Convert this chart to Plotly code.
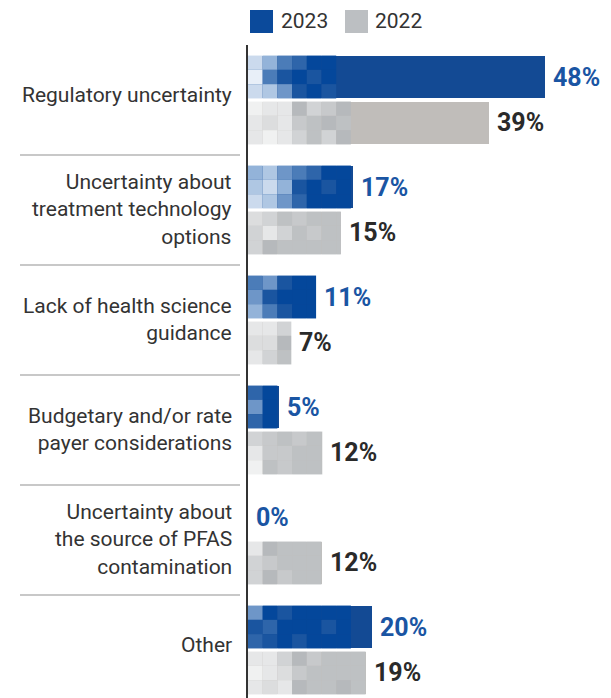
import plotly.graph_objects as go

# Survey results: share of respondents citing each barrier
categories = [
    "Regulatory uncertainty",
    "Uncertainty about<br>treatment technology<br>options",
    "Lack of health science<br>guidance",
    "Budgetary and/or rate<br>payer considerations",
    "Uncertainty about<br>the source of PFAS<br>contamination",
    "Other",
]
values_2023 = [48, 17, 11, 5, 0, 20]
values_2022 = [39, 15, 7, 12, 12, 19]
series_names = ["2023", "2022"]

# Colours
BLUE = "#134A94"
BLUE_LABEL = "#1A55A3"
GRAY = "#C0BDBA"
TEXT = "#333333"
VALUE_DARK = "#2A2A2A"

# Mosaic tile shades for the left end of each bar (lightest -> darkest)
blue_tiles = ["#E8EFF8", "#CBDAED", "#AFC7E3", "#93B3D9", "#6E96C8",
              "#4B7CB8", "#2E65AA", "#1A55A0", "#04479B"]
gray_tiles = ["#F0F1F1", "#E6E7E8", "#DCDDDE", "#D1D3D5", "#C7C9CB",
              "#BEC1C3", "#B6B9BC"]
blue_patterns = [
    ["135688", "057878", "124787"],
    ["3245688", "2137878", "1246888"],
    ["54788", "47888", "35788"],
    ["68", "48", "68"],
    ["", "", ""],
    ["4878888", "7688878", "6787888"],
]
gray_patterns = [
    ["0116346", "1214565", "1013536"],
    ["2354555", "3135455", "3655555"],
    ["113", "226", "135"],
    ["345455", "144555", "054555"],
    ["16555", "34555", "36455"],
    ["11364555", "01245555", "12165565"],
]

PX_PER_UNIT = 6.19          # horizontal scale (pixels per percentage point)
TILE_W = 14.7 / PX_PER_UNIT  # mosaic tile width in data units
BAR_W = 0.39
OFFSET = 0.209

L, R, T, B = 248, 10, 45, 0
W, H = 611, 698
plot_w = W - L - R
plot_h = H - T - B
x_max = plot_w / PX_PER_UNIT

idx = list(range(len(categories)))
y_2023 = [i - OFFSET for i in idx]
y_2022 = [i + OFFSET for i in idx]

fig = go.Figure()
fig.add_trace(go.Bar(name=series_names[0], orientation="h", x=values_2023, y=y_2023,
                     width=BAR_W, marker=dict(color=BLUE, line=dict(width=0)),
                     hoverinfo="x", showlegend=False))
fig.add_trace(go.Bar(name=series_names[1], orientation="h", x=values_2022, y=y_2022,
                     width=BAR_W, marker=dict(color=GRAY, line=dict(width=0)),
                     hoverinfo="x", showlegend=False))

shapes = []
annotations = []


def add_mosaic(yc, value, pattern, palette):
    rows = len(pattern)
    row_h = BAR_W / rows
    top = yc - BAR_W / 2
    for r, row in enumerate(pattern):
        for c, ch in enumerate(row):
            x0 = c * TILE_W
            if x0 >= value:
                break
            x1 = min((c + 1) * TILE_W, value)
            shapes.append(dict(type="rect", xref="x", yref="y", layer="above",
                               x0=x0, x1=x1, y0=top + r * row_h, y1=top + (r + 1) * row_h,
                               fillcolor=palette[int(ch)], line=dict(width=0)))


for i in idx:
    add_mosaic(y_2023[i], values_2023[i], blue_patterns[i], blue_tiles)
    add_mosaic(y_2022[i], values_2022[i], gray_patterns[i], gray_tiles)
    annotations.append(dict(x=values_2023[i], y=y_2023[i], xref="x", yref="y",
                            text=f"{values_2023[i]}%", showarrow=False, xanchor="left",
                            xshift=6, font=dict(family="Roboto", size=25, color=BLUE_LABEL,
                                                weight="bold")))
    annotations.append(dict(x=values_2022[i], y=y_2022[i], xref="x", yref="y",
                            text=f"{values_2022[i]}%", showarrow=False, xanchor="left",
                            xshift=6, font=dict(family="Roboto", size=25, color=VALUE_DARK,
                                                weight="bold")))
    # Category label, right-aligned against the axis
    single_line = "<br>" not in categories[i]
    annotations.append(dict(x=0, y=i, xref="paper", yref="y", text=categories[i],
                            showarrow=False, xanchor="right", yanchor="middle",
                            align="right", xshift=-14, yshift=5 if single_line else 1,
                            font=dict(family="Roboto", size=21, color=TEXT)))

# Separator lines between categories
for i in idx[:-1]:
    shapes.append(dict(type="line", xref="paper", yref="y",
                       x0=(20 - L) / plot_w, x1=(240 - L) / plot_w, y0=i + 0.5, y1=i + 0.5,
                       line=dict(color="#C8C8C8", width=2)))


def px_x(px):
    return (px - L) / plot_w


def px_y(py):
    return 1 - (py - T) / plot_h


# Custom legend with large square swatches
for name, color, x0, tx in [(series_names[0], "#0B4A9B", 250, 279),
                            (series_names[1], "#BCBFC2", 345, 373)]:
    shapes.append(dict(type="rect", xref="paper", yref="paper",
                       x0=px_x(x0), x1=px_x(x0 + 23), y0=px_y(33), y1=px_y(10),
                       fillcolor=color, line=dict(width=0)))
    annotations.append(dict(x=px_x(tx), y=px_y(21.5), xref="paper", yref="paper",
                            text=name, showarrow=False, xanchor="left", yanchor="middle",
                            font=dict(family="Roboto", size=21, color=TEXT)))

fig.update_layout(
    width=W, height=H,
    margin=dict(l=L, r=R, t=T, b=B),
    paper_bgcolor="white", plot_bgcolor="white",
    barmode="overlay", bargap=0,
    shapes=shapes, annotations=annotations,
    font=dict(family="Roboto", color=TEXT),
    xaxis=dict(range=[0, x_max], visible=False, fixedrange=True),
    yaxis=dict(range=[(H - 100) / 110, -0.5], tickvals=idx, showticklabels=False,
               ticks="", showgrid=False, zeroline=False,
               showline=True, linecolor="#333333", linewidth=2, fixedrange=True),
    showlegend=False,
)

fig.write_html("out.html")
